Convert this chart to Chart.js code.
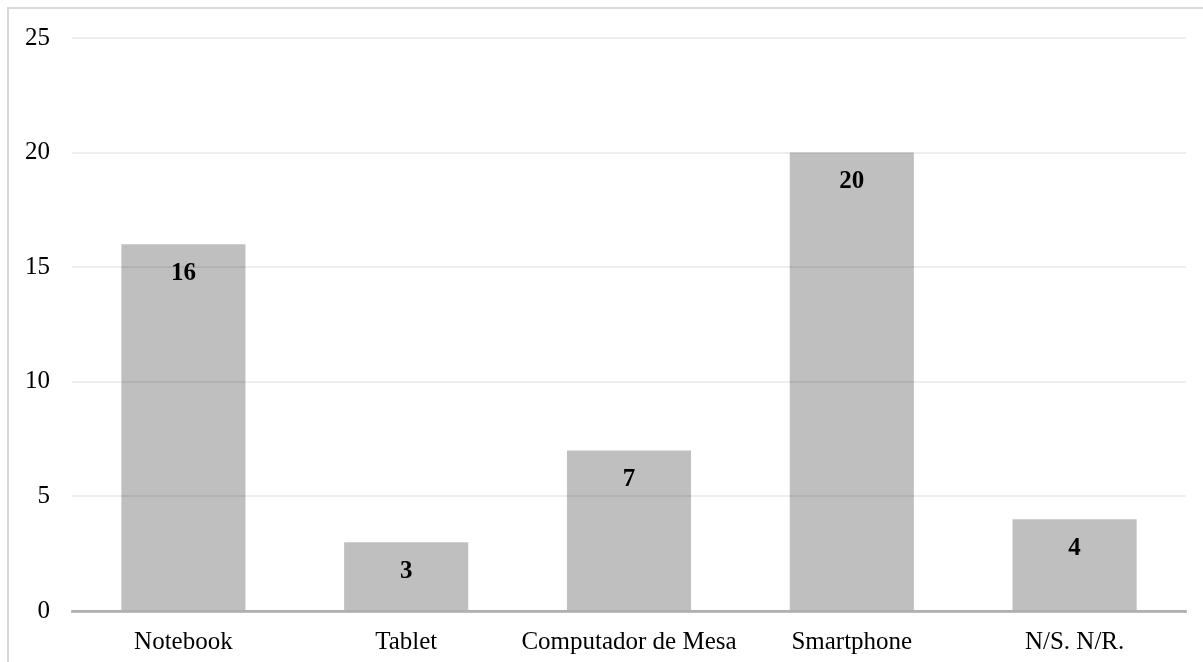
<!DOCTYPE html>
<html>
<head>
<meta charset="utf-8">
<script src="https://cdn.jsdelivr.net/npm/chart.js@4/dist/chart.umd.min.js"></script>
<style>
  html, body { margin: 0; padding: 0; background: #fff; }
  #wrap { width: 1203px; height: 662px; position: relative; }
</style>
</head>
<body>
<div id="wrap"><canvas id="c" width="1203" height="662"></canvas></div>
<script>
// Device types and counts
const categories = ['Notebook', 'Tablet', 'Computador de Mesa', 'Smartphone', 'N/S. N/R.'];
const counts = [16, 3, 7, 20, 4];
const yTicks = [0, 5, 10, 15, 20, 25];

const FONT = "'Liberation Serif', 'Times New Roman', serif";

// Light frame along the top and left edges
const framePlugin = {
  id: 'frame',
  beforeDraw(chart) {
    const ctx = chart.ctx;
    ctx.save();
    ctx.strokeStyle = '#d9d9d9';
    ctx.lineWidth = 2;
    ctx.beginPath();
    ctx.moveTo(8, chart.height);
    ctx.lineTo(8, 8);
    ctx.lineTo(chart.width, 8);
    ctx.stroke();
    ctx.restore();
  }
};

// Bold value labels just inside the top of each bar
const valueLabels = {
  id: 'valueLabels',
  afterDraw(chart) {
    const ctx = chart.ctx;
    const meta = chart.getDatasetMeta(0);
    ctx.save();
    ctx.font = 'bold 25px ' + FONT;
    ctx.fillStyle = '#000';
    ctx.textAlign = 'center';
    ctx.textBaseline = 'middle';
    meta.data.forEach((bar, i) => {
      ctx.fillText(String(chart.data.datasets[0].data[i]), bar.x, bar.y + 29);
    });
    ctx.restore();
  }
};

new Chart(document.getElementById('c'), {
  type: 'bar',
  data: {
    labels: categories,
    datasets: [{
      data: counts,
      backgroundColor: '#bfbfbf',
      borderWidth: 0,
      categoryPercentage: 1,
      barPercentage: 0.557
    }]
  },
  options: {
    responsive: false,
    animation: false,
    devicePixelRatio: 1,
    layout: { padding: { top: 38, right: 17, bottom: 0, left: 0 } },
    plugins: { legend: { display: false }, tooltip: { enabled: false } },
    scales: {
      x: {
        grid: { display: false, drawTicks: false },
        border: { display: true, color: '#bdbdbd', width: 3, z: 1 },
        ticks: { color: '#000', font: { family: FONT, size: 25 }, padding: 16, maxRotation: 0 },
        afterFit(scale) { scale.height = 51; }
      },
      y: {
        min: 0,
        max: 25,
        afterBuildTicks(scale) { scale.ticks = yTicks.map(v => ({ value: v })); },
        grid: { color: 'rgba(0,0,0,0.065)', lineWidth: 2, drawTicks: false, z: 1 },
        border: { display: false },
        ticks: { color: '#000', font: { family: FONT, size: 25 }, padding: 22 },
        afterFit(scale) { scale.width = 72; }
      }
    }
  },
  plugins: [framePlugin, valueLabels]
});
</script>
</body>
</html>
